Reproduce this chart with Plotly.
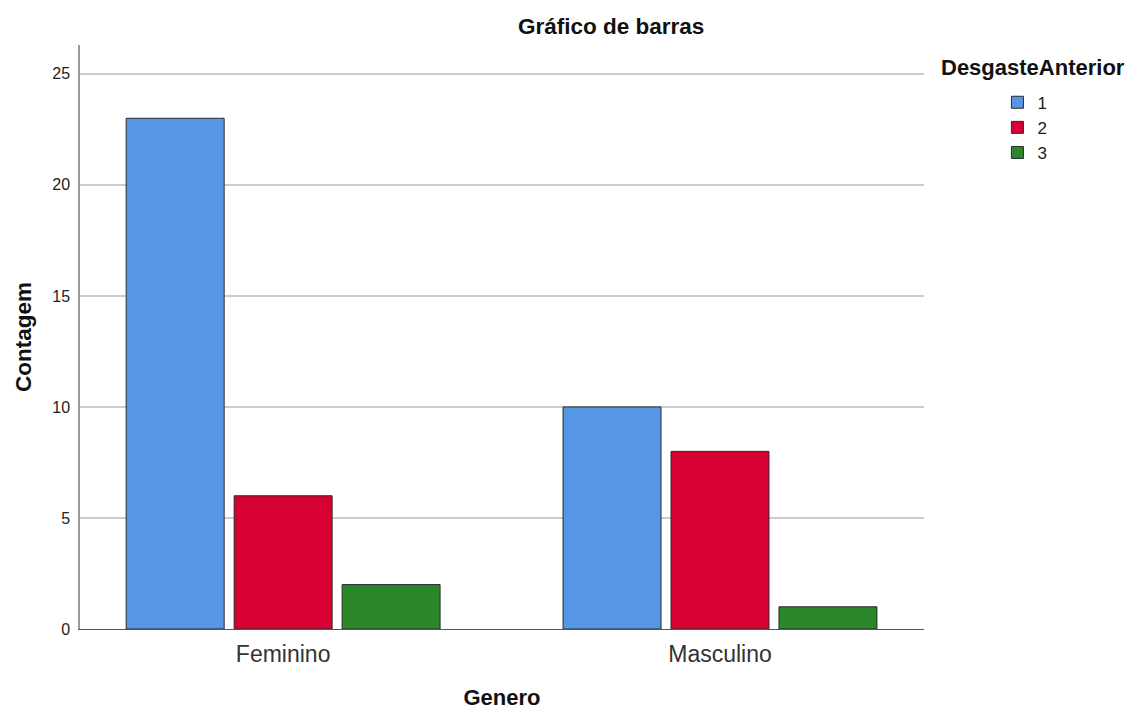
import plotly.graph_objects as go

categories = ["Feminino", "Masculino"]
series_names = ["1", "2", "3"]
values_1 = [23, 10]
values_2 = [6, 8]
values_3 = [2, 1]
colors = ["#5596E5", "#D60032", "#2A872A"]
y_ticks = [0, 5, 10, 15, 20, 25]

fig = go.Figure()
for name, vals, col in zip(series_names, [values_1, values_2, values_3], colors):
    fig.add_trace(go.Bar(
        x=categories, y=vals, name=name,
        marker=dict(color=col, line=dict(color="#2b2b2b", width=1)),
    ))

font_family = "Liberation Sans, Arial, sans-serif"

fig.update_layout(
    width=1128, height=702,
    paper_bgcolor="white", plot_bgcolor="white",
    margin=dict(l=72, r=212, t=37, b=81, autoexpand=False),
    barmode="group", bargap=0.2586, bargroupgap=0.0926,
    font=dict(family=font_family, color="#222"),
    showlegend=True,
    legend=dict(
        x=1.087, xref="paper", y=0.932, yref="paper",
        xanchor="left", yanchor="top",
        font=dict(size=17, color="#222"),
        itemwidth=30, tracegroupgap=0,
        bgcolor="rgba(0,0,0,0)",
    ),
    xaxis=dict(
        range=[-0.465, 1.467],
        showline=True, linecolor="#555", linewidth=1,
        ticks="outside", ticklen=4, tickcolor="rgba(0,0,0,0)",
        tickfont=dict(size=23, color="#333"),
        title=dict(text="<b>Genero</b>", font=dict(size=22, color="#111"), standoff=25),
        showgrid=False, zeroline=False,
    ),
    yaxis=dict(
        range=[0, 26.3],
        tickvals=y_ticks,
        showline=True, linecolor="#999", linewidth=1.5,
        ticks="outside", ticklen=5, tickcolor="rgba(0,0,0,0)",
        tickfont=dict(size=16, color="#222"),
        showgrid=True, gridcolor="#CCCCCC", gridwidth=1.5,
        zeroline=False,
        title=dict(text="<b>Contagem</b>", font=dict(size=22.5, color="#111"), standoff=14),
    ),
    annotations=[
        dict(text="<b>Gráfico de barras</b>", x=0.629, xref="paper", y=1.031, yref="paper",
             yanchor="middle", xanchor="center", showarrow=False,
             font=dict(size=22.5, color="#111")),
        dict(text="<b>DesgasteAnterior</b>", x=1.0178, xref="paper", y=0.962, yref="paper",
             xanchor="left", yanchor="middle", showarrow=False,
             font=dict(size=22, color="#111")),
    ],
)

fig.write_html("out.html")
